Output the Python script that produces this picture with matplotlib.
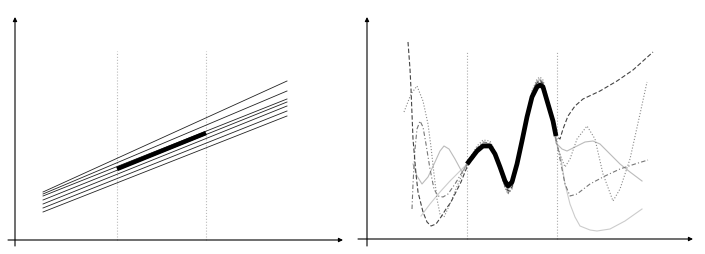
import matplotlib
matplotlib.use("Agg")
import matplotlib.pyplot as plt

# ---- left panel: straight-line fits ----
fit_x = [2.8, 27.2]
fit_start_y = [4.8, 4.6, 4.4, 4.0, 3.6, 3.2, 2.8]
fit_end_y = [15.9, 14.9, 14.1, 13.8, 13.4, 12.9, 12.4]
seg_x = [10.2, 19.1]
seg_y = [7.1, 10.7]
left_bounds = [10.2, 19.1]

# ---- right panel: wiggly fits ----
inner_x = [10.0, 11.0, 11.6, 12.3, 12.8, 13.3, 13.8, 14.1, 14.5, 15.0,
           15.5, 16.0, 16.5, 17.0, 17.3, 17.6, 18.1, 18.6, 18.9]
thick_y = [7.5, 8.8, 9.3, 9.3, 8.5, 7.2, 5.8, 5.3, 5.7, 7.5,
           9.8, 12.2, 14.2, 15.2, 15.4, 15.2, 13.5, 11.8, 10.3]
right_bounds = [10.0, 19.0]

a_x = [4.1, 4.3, 4.4, 4.6, 4.9, 5.1, 5.6, 6.0, 6.4, 6.9, 7.4, 7.9, 8.4, 8.9, 9.4] + inner_x + \
      [19.3, 19.6, 20.1, 20.8, 21.6, 23.3, 25.0, 26.6, 28.6]
a_y = [19.7, 17.0, 15.0, 10.0, 6.5, 4.7, 2.7, 1.7, 1.3, 1.5, 2.2, 3.0, 3.7, 4.7, 5.7] + \
      [7.2, 8.6, 9.4, 9.5, 8.6, 7.0, 5.4, 4.8, 5.2, 7.2, 9.8, 12.3, 14.5, 15.6, 15.8, 15.5, 13.5, 11.5, 10.3] + \
      [10.0, 11.0, 12.3, 13.3, 14.0, 14.8, 15.8, 16.9, 18.7]

b_x = [3.7, 4.4, 5.0, 5.6, 6.1, 6.4, 6.7, 7.0, 7.3, 7.7, 8.3, 9.1] + inner_x + \
      [19.4, 19.8, 20.3, 21.0, 22.0, 22.8, 23.6, 24.6, 25.3, 26.3, 27.3, 28.0]
b_y = [12.7, 14.5, 15.3, 13.8, 11.5, 9.2, 6.5, 4.0, 2.5, 2.2, 3.5, 5.5] + \
      [7.6, 9.3, 9.9, 9.8, 8.8, 7.0, 5.1, 4.5, 5.0, 7.3, 10.0, 12.6, 14.8, 16.0, 16.2, 15.9, 14.0, 11.9, 9.7] + \
      [8.2, 7.2, 8.0, 10.0, 11.3, 10.0, 6.5, 3.8, 5.0, 8.0, 12.5, 15.7]

c_x = [4.5, 4.6, 4.8, 5.0, 5.3, 5.6, 5.9, 6.3, 6.7, 7.1, 7.6, 8.1, 8.8, 9.4] + inner_x + \
      [19.4, 19.8, 20.3, 21.0, 22.3, 23.8, 25.3, 26.8, 28.1]
c_y = [3.0, 5.5, 9.0, 11.0, 11.8, 11.2, 9.5, 7.0, 5.0, 4.3, 4.2, 4.5, 5.5, 6.5] + \
      [7.4, 9.1, 9.7, 9.6, 8.6, 6.9, 5.2, 4.6, 5.1, 7.2, 9.7, 12.4, 14.6, 15.7, 15.9, 15.6, 13.6, 11.6, 10.0] + \
      [7.5, 5.5, 4.3, 4.5, 5.5, 6.3, 7.0, 7.5, 7.9]

d_x = [4.6, 5.0, 5.5, 6.1, 6.8, 7.3, 7.7, 8.2, 8.8, 9.5] + inner_x + \
      [19.5, 20.0, 20.8, 21.8, 22.6, 23.3, 24.3, 25.3, 26.3, 27.5]
d_y = [7.5, 6.3, 5.5, 6.2, 7.7, 8.8, 9.3, 9.0, 8.0, 6.7] + \
      [7.5, 9.0, 9.6, 9.5, 8.7, 7.1, 5.5, 5.0, 5.4, 7.4, 9.9, 12.5, 14.7, 15.8, 16.0, 15.7, 13.8, 11.8, 9.6] + \
      [9.0, 8.8, 9.2, 9.7, 9.8, 9.5, 8.5, 7.5, 6.7, 5.8]

e_x = [5.4, 6.3, 7.3, 8.3, 9.3] + inner_x + \
      [19.4, 19.8, 20.3, 20.8, 21.3, 22.3, 23.0, 24.3, 25.8, 27.5]
e_y = [2.3, 3.5, 4.7, 5.8, 6.8] + \
      [7.5, 8.9, 9.5, 9.4, 8.5, 7.0, 5.5, 5.0, 5.4, 7.3, 9.8, 12.4, 14.6, 15.7, 15.9, 15.6, 13.9, 11.9, 10.0] + \
      [8.0, 5.5, 3.5, 2.2, 1.3, 0.9, 0.8, 1.0, 1.8, 3.0]

fig = plt.figure(figsize=(7.05, 2.55), dpi=100)
ax1 = fig.add_axes([0, 0, 352 / 705, 1])
ax2 = fig.add_axes([352 / 705, 0, 353 / 705, 1])


def arrows(ax, x0, x1, y0, y1):
    arr = dict(arrowstyle='-|>', lw=0.8, color='black', mutation_scale=6, shrinkA=0, shrinkB=0)
    ax.annotate('', xy=(x1, 0), xytext=(x0, 0), arrowprops=arr)
    ax.annotate('', xy=(0, y1), xytext=(0, y0), arrowprops=arr)
    ax.axis('off')


# left
ax1.set_xlim(-1.5, 33.7)
ax1.set_ylim(-1.4, 24.1)
for b in left_bounds:
    ax1.vlines(b, 0, 18.9, color='#bbbbbb', lw=0.8, linestyles=':')
for y0, y1 in zip(fit_start_y, fit_end_y):
    ax1.plot(fit_x, [y0, y1], color='#222222', lw=0.6)
ax1.plot(seg_x, seg_y, color='black', lw=3.2, solid_capstyle='butt')
arrows(ax1, -0.7, 32.8, -0.6, 22.3)

# right
ax2.set_xlim(-1.5, 33.8)
ax2.set_ylim(-1.5, 24.0)
for b in right_bounds:
    ax2.vlines(b, 0, 18.8, color='#aaaaaa', lw=0.8, linestyles=':')
kw = dict(lw=0.8, solid_joinstyle='round', dash_joinstyle='round')
ax2.plot(e_x, e_y, color='#cccccc', **kw)
ax2.plot(d_x, d_y, color='#bbbbbb', **kw)
ax2.plot(c_x, c_y, color='#777777', linestyle='-.', dashes=(4, 2, 1, 2), **kw)
ax2.plot(b_x, b_y, color='#888888', linestyle=':', **kw)
ax2.plot(a_x, a_y, color='#444444', linestyle='--', dashes=(4, 2), **kw)
ax2.plot(inner_x, thick_y, color='black', lw=3.4, solid_capstyle='butt', solid_joinstyle='round')
arrows(ax2, -0.9, 32.6, -0.7, 22.2)

fig.savefig('out.png', dpi=100)
